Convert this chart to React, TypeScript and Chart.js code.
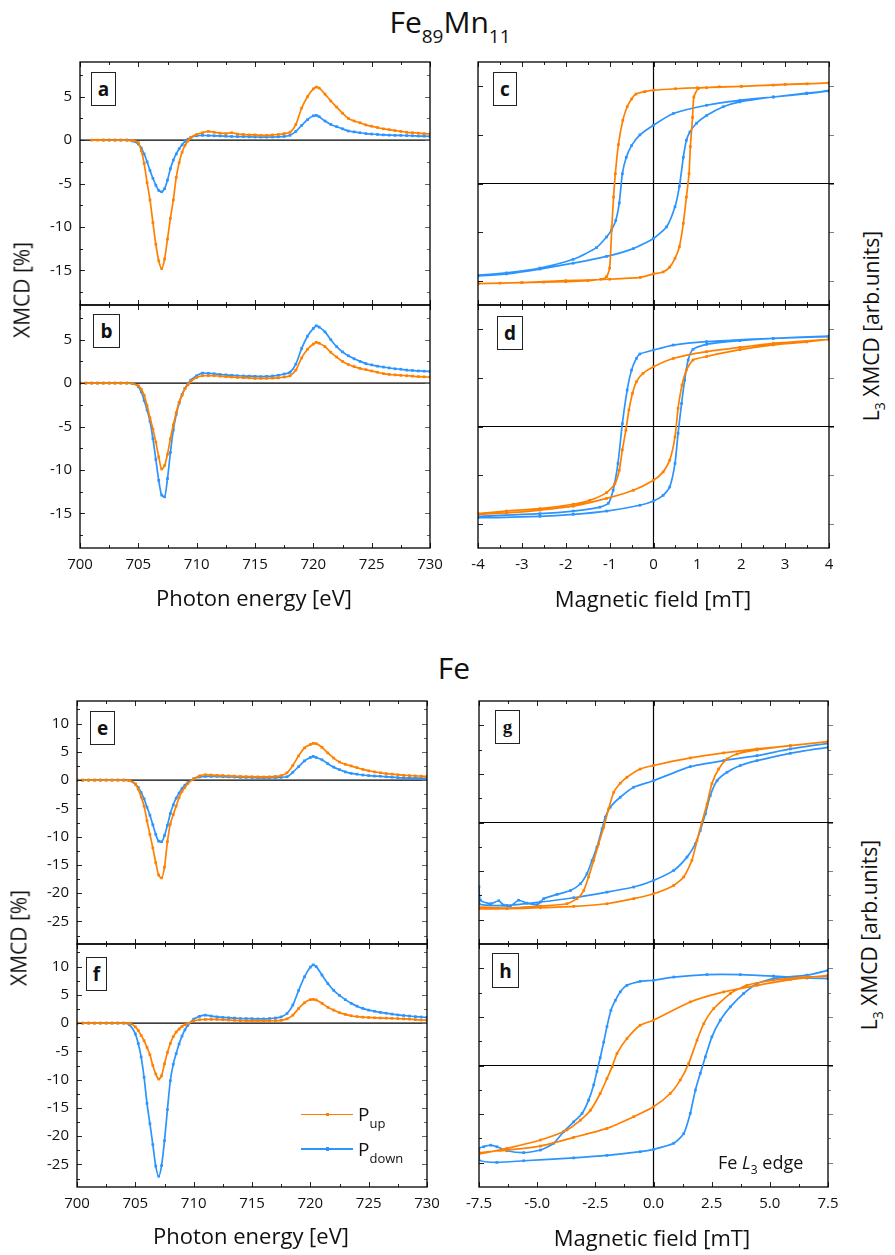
import React, { useEffect, useRef } from 'react';
import { Chart, registerables } from 'chart.js';
Chart.register(...registerables);

const ORANGE = '#ff8000';
const BLUE = '#2b94ff';
const FONT = "'Open Sans', 'Noto Sans', sans-serif";

// ---------- XMCD spectra (photon energy grid, eV) ----------
const energy = [700, 700.5, 701, 701.5, 702, 702.5, 703, 703.5, 704, 704.5,
  705, 705.25, 705.5, 705.75, 706, 706.25, 706.5, 706.75, 707, 707.25, 707.5, 707.75, 708, 708.25, 708.5, 708.75, 709, 709.25, 709.5,
  710, 710.5, 711, 711.5, 712, 712.5, 713, 713.5, 714, 714.5, 715, 715.5, 716, 716.5, 717, 717.5, 718, 718.5, 719, 719.5, 720,
  720.25,
  720.5, 721, 721.5, 722, 722.5, 723, 723.5, 724, 724.5, 725, 725.5, 726, 726.5, 727, 727.5, 728, 728.5, 729, 729.5, 730];

const aUp = [null, null, 0, 0, 0, 0, 0, 0, 0, -0.05,
  -0.3, -1.2, -2.7, -4.9, -6.9, -9.5, -12.0, -13.9, -14.8, -13.7, -11.4, -9.0, -6.9, -4.3, -2.6, -1.4, -0.6, -0.1, 0.3,
  0.65, 0.85, 1.0, 0.9, 0.8, 0.75, 0.85, 0.7, 0.65, 0.6, 0.6, 0.55, 0.55, 0.6, 0.65, 0.75, 0.9, 1.8, 3.7, 5.0, 5.9,
  6.1,
  6.0, 5.3, 4.5, 3.8, 3.1, 2.5, 2.2, 2.0, 1.75, 1.6, 1.45, 1.3, 1.2, 1.1, 1.0, 0.9, 0.85, 0.8, 0.75, 0.72];
const aDown = [null, null, null, null, 0, 0, 0, 0, 0, -0.1,
  -0.45, -0.9, -1.6, -2.5, -3.5, -4.4, -5.2, -5.8, -5.95, -5.6, -4.6, -3.3, -2.3, -1.6, -1.0, -0.55, -0.15, 0.1, 0.3,
  0.5, 0.55, 0.52, 0.5, 0.48, 0.45, 0.42, 0.4, 0.4, 0.38, 0.36, 0.35, 0.35, 0.36, 0.38, 0.42, 0.55, 1.0, 1.7, 2.35, 2.8,
  2.85,
  2.7, 2.2, 1.8, 1.55, 1.3, 1.05, 0.95, 0.85, 0.75, 0.7, 0.65, 0.6, 0.57, 0.55, 0.55, 0.52, 0.5, 0.47, 0.45, 0.42];
const bUp = [0, 0, 0, 0, 0, 0, 0, 0, 0, -0.05,
  -0.3, -0.7, -1.4, -2.6, -4.0, -5.3, -6.8, -8.5, -9.9, -9.5, -8.2, -6.4, -4.8, -3.4, -2.2, -1.4, -0.6, -0.2, 0.2,
  0.65, 0.85, 0.85, 0.85, 0.8, 0.75, 0.7, 0.65, 0.62, 0.6, 0.55, 0.55, 0.55, 0.58, 0.6, 0.7, 0.85, 1.5, 2.9, 3.9, 4.5,
  4.7,
  4.6, 4.2, 3.55, 3.0, 2.5, 2.15, 1.9, 1.7, 1.55, 1.4, 1.25, 1.1, 1.0, 0.95, 0.9, 0.85, 0.8, 0.75, 0.72, 0.7];
const bDown = [0, 0, 0, 0, 0, 0, 0, 0, 0, -0.05,
  -0.4, -1.0, -2.0, -3.1, -4.4, -6.4, -8.8, -11.2, -12.9, -13.1, -11.0, -8.0, -5.4, -3.6, -2.3, -1.3, -0.6, -0.05, 0.35,
  0.85, 1.15, 1.12, 1.08, 1.0, 0.95, 0.9, 0.85, 0.82, 0.8, 0.78, 0.75, 0.78, 0.82, 0.9, 1.05, 1.25, 2.2, 4.0, 5.4, 6.3,
  6.6,
  6.45, 5.9, 5.0, 4.2, 3.6, 3.15, 2.8, 2.5, 2.25, 2.1, 1.95, 1.85, 1.75, 1.65, 1.6, 1.5, 1.45, 1.4, 1.37, 1.35];
const eUp = [0, 0, 0, 0, 0, 0, 0, 0, 0, -0.1,
  -0.7, -1.6, -3.0, -4.6, -7.2, -9.6, -12.0, -14.6, -16.8, -17.3, -15.4, -10.9, -7.8, -6.1, -4.6, -3.1, -2.0, -1.3, -0.6,
  0.2, 0.75, 0.95, 0.9, 0.85, 0.8, 0.75, 0.7, 0.65, 0.62, 0.6, 0.58, 0.56, 0.58, 0.65, 0.8, 1.3, 2.6, 4.3, 5.7, 6.3,
  6.5,
  6.45, 5.8, 4.8, 3.9, 3.2, 2.8, 2.5, 2.2, 1.9, 1.65, 1.45, 1.3, 1.15, 1.05, 0.95, 0.85, 0.8, 0.75, 0.7, 0.65];
const eDown = [0, 0, 0, 0, 0, 0, 0, 0, 0, -0.1,
  -0.7, -1.3, -2.2, -3.3, -4.8, -6.2, -7.9, -9.6, -10.8, -10.9, -9.8, -8.0, -5.9, -4.4, -3.2, -2.3, -1.5, -0.9, -0.45,
  0.25, 0.55, 0.65, 0.65, 0.65, 0.6, 0.58, 0.55, 0.5, 0.48, 0.45, 0.42, 0.4, 0.42, 0.45, 0.5, 0.6, 1.4, 2.4, 3.4, 4.0,
  4.2,
  4.0, 3.6, 2.9, 2.3, 1.85, 1.45, 1.2, 1.05, 0.9, 0.8, 0.72, 0.68, 0.6, 0.52, 0.45, 0.4, 0.37, 0.35, 0.32, 0.3];
const fUp = [0, 0, 0, 0, 0, 0, 0, 0, 0, -0.05,
  -0.65, -1.3, -2.2, -3.1, -4.3, -5.6, -7.5, -9.0, -9.9, -9.3, -7.2, -5.2, -3.6, -2.4, -1.6, -1.05, -0.6, -0.3, -0.05,
  0.4, 0.6, 0.65, 0.65, 0.65, 0.6, 0.55, 0.5, 0.45, 0.42, 0.4, 0.4, 0.4, 0.42, 0.45, 0.5, 0.75, 1.4, 2.6, 3.6, 4.15,
  4.2,
  4.1, 3.5, 2.8, 2.3, 1.85, 1.55, 1.3, 1.15, 1.05, 1.0, 0.95, 0.9, 0.88, 0.85, 0.8, 0.75, 0.7, 0.62, 0.55, 0.5];
const fDown = [0, 0, 0, 0, 0, 0, 0, 0, 0, -0.3,
  -1.9, -3.6, -6.0, -9.6, -14.2, -17.8, -21.5, -25.3, -27.1, -25.2, -20.8, -15.3, -10.2, -7.3, -5.4, -3.7, -2.3, -1.2, -0.4,
  0.7, 1.2, 1.4, 1.25, 1.1, 1.0, 0.95, 0.9, 0.82, 0.8, 0.78, 0.75, 0.75, 0.8, 0.9, 1.1, 1.7, 3.2, 5.8, 8.2, 9.9,
  10.3,
  10.0, 8.5, 7.0, 5.8, 4.9, 4.15, 3.5, 3.0, 2.6, 2.3, 2.1, 1.9, 1.75, 1.6, 1.45, 1.35, 1.25, 1.15, 1.08, 1.0];

// ---------- Hysteresis loops (field mT, L3 XMCD arb. units) ----------
// panel c
const cUpDescB = [4, 3, 2, 1, 0.5, 0, -0.2, -0.4, -0.5, -0.6, -0.7, -0.8, -0.87, -0.91, -0.95, -1.0, -1.07, -1.2, -1.5, -2, -2.5, -3, -3.5, -4];
const cUpDescV = [1.034, 1.02, 1.0, 0.985, 0.975, 0.96, 0.945, 0.92, 0.87, 0.79, 0.65, 0.40, 0.10, -0.14, -0.45, -0.87, -0.96, -0.985, -1.0, -1.01, -1.015, -1.02, -1.025, -1.03];
const cUpAscB = [-4, -3, -2, -1, -0.3, 0, 0.22, 0.37, 0.49, 0.59, 0.68, 0.75, 0.81, 0.84, 0.89, 0.92, 1.02, 1.21, 1.5, 2, 2.73, 3.5, 4];
const cUpAscV = [-1.03, -1.02, -1.0, -0.985, -0.966, -0.93, -0.91, -0.86, -0.77, -0.65, -0.41, -0.14, 0.10, 0.38, 0.68, 0.89, 0.976, 0.986, 0.995, 1.0, 1.012, 1.025, 1.034];
const cDnDescB = [4, 3.49, 2.73, 1.97, 1.21, 0.45, 0, -0.31, -0.5, -0.62, -0.71, -0.78, -0.86, -0.96, -1.07, -1.3, -1.83, -2.59, -3.35, -4];
const cDnDescV = [0.952, 0.925, 0.89, 0.856, 0.805, 0.72, 0.60, 0.50, 0.39, 0.27, 0.10, -0.2, -0.38, -0.48, -0.55, -0.66, -0.78, -0.87, -0.92, -0.945];
const cDnAscB = [-4, -3.35, -2.59, -1.83, -1.07, -0.46, 0, 0.3, 0.49, 0.59, 0.68, 0.75, 0.83, 0.98, 1.21, 1.59, 1.97, 2.73, 3.49, 4];
const cDnAscV = [-0.95, -0.93, -0.88, -0.82, -0.75, -0.67, -0.565, -0.445, -0.24, -0.03, 0.27, 0.445, 0.53, 0.62, 0.70, 0.79, 0.84, 0.89, 0.93, 0.952];
// panel d
const dUpDescB = [4, 2.73, 1.97, 1.21, 0.45, 0, -0.24, -0.39, -0.48, -0.56, -0.63, -0.71, -0.78, -0.88, -1.07, -1.45, -1.83, -2.59, -3.35, -4];
const dUpDescV = [0.897, 0.856, 0.814, 0.77, 0.70, 0.615, 0.546, 0.46, 0.34, 0.17, -0.04, -0.24, -0.45, -0.59, -0.68, -0.76, -0.80, -0.845, -0.87, -0.897];
const dUpAscB = [-4, -3.35, -2.59, -1.83, -1.07, -0.46, 0, 0.22, 0.37, 0.49, 0.56, 0.65, 0.75, 0.9, 1.21, 1.97, 2.73, 3.49, 4];
const dUpAscV = [-0.904, -0.89, -0.86, -0.82, -0.74, -0.656, -0.553, -0.467, -0.347, -0.107, 0.186, 0.426, 0.58, 0.684, 0.72, 0.79, 0.84, 0.87, 0.897];
const dDnDescB = [4, 2.73, 1.21, 0.45, 0, -0.31, -0.39, -0.5, -0.6, -0.71, -0.81, -0.92, -1.03, -1.22, -1.83, -2.59, -4];
const dDnDescV = [0.924, 0.907, 0.873, 0.838, 0.787, 0.746, 0.70, 0.58, 0.375, 0.03, -0.38, -0.656, -0.79, -0.83, -0.87, -0.897, -0.924];
const dDnAscB = [-4, -2.59, -1.83, -1.07, -0.31, 0, 0.22, 0.37, 0.49, 0.56, 0.64, 0.71, 0.79, 0.9, 1.21, 1.97, 2.73, 4];
const dDnAscV = [-0.938, -0.924, -0.904, -0.87, -0.81, -0.766, -0.708, -0.622, -0.38, -0.07, 0.237, 0.478, 0.684, 0.794, 0.845, 0.883, 0.907, 0.931];
// panel g
const gUpDescB = [7.5, 5.88, 4.45, 3.02, 1.58, 0, -0.57, -1.14, -1.43, -1.71, -1.93, -2.14, -2.36, -2.57, -2.79, -3.0, -3.29, -3.72, -4.86, -6.3, -7.5];
const gUpDescV = [0.832, 0.79, 0.757, 0.716, 0.664, 0.586, 0.55, 0.466, 0.404, 0.31, 0.14, -0.048, -0.22, -0.39, -0.56, -0.70, -0.784, -0.836, -0.86, -0.88, -0.87];
const gUpAscB = [-7.5, -6.3, -4.86, -3.43, -2.0, -0.85, 0, 0.87, 1.3, 1.65, 1.87, 2.08, 2.3, 2.51, 2.8, 3.16, 3.59, 4.45, 5.88, 7.5];
const gUpAscV = [-0.887, -0.887, -0.877, -0.863, -0.836, -0.784, -0.733, -0.647, -0.56, -0.39, -0.185, 0.003, 0.19, 0.40, 0.55, 0.654, 0.705, 0.747, 0.79, 0.832];
const gDnDescB = [7.5, 5.88, 4.45, 3.02, 1.58, 0, -0.85, -1.43, -1.86, -2.07, -2.21, -2.43, -2.64, -2.86, -3.14, -3.57, -4.15, -4.72, -5.0, -5.44, -5.8, -6.15, -6.44, -6.65, -7.0, -7.44, -7.5];
const gDnDescV = [0.815, 0.757, 0.688, 0.637, 0.575, 0.43, 0.363, 0.26, 0.158, 0.055, -0.065, -0.253, -0.39, -0.527, -0.63, -0.70, -0.74, -0.784, -0.846, -0.83, -0.80, -0.86, -0.85, -0.805, -0.836, -0.80, -0.66];
const gDnAscB = [-7.5, -6.3, -4.86, -3.43, -2.0, -0.85, 0, 0.87, 1.44, 1.8, 2.01, 2.23, 2.44, 2.73, 3.16, 3.73, 4.45, 5.88, 7.5];
const gDnAscV = [-0.836, -0.853, -0.818, -0.774, -0.716, -0.664, -0.596, -0.493, -0.356, -0.22, -0.082, 0.089, 0.277, 0.43, 0.517, 0.586, 0.637, 0.712, 0.774];
// panel h
const hUpDescB = [7.5, 5.88, 4.45, 3.02, 1.58, 0, -0.57, -1.14, -1.57, -1.78, -2.0, -2.29, -2.71, -3.14, -3.72, -4.86, -6.3, -7.5];
const hUpDescV = [0.928, 0.884, 0.825, 0.757, 0.654, 0.466, 0.414, 0.277, 0.123, -0.014, -0.134, -0.288, -0.46, -0.562, -0.664, -0.767, -0.853, -0.91];
const hUpAscB = [-7.5, -6.3, -4.86, -3.43, -2.0, -0.85, 0, 0.72, 1.15, 1.51, 1.87, 2.16, 2.59, 3.3, 4.02, 5.16, 6.6, 7.5];
const hUpAscV = [-0.897, -0.87, -0.829, -0.74, -0.647, -0.527, -0.425, -0.288, -0.15, 0.02, 0.26, 0.43, 0.586, 0.74, 0.825, 0.877, 0.911, 0.918];
const hDnDescB = [7.5, 6.6, 5.16, 3.73, 2.3, 0.87, 0, -0.57, -1.14, -1.43, -1.64, -1.83, -2.0, -2.14, -2.29, -2.43, -2.57, -2.79, -3.07, -3.43, -3.86, -4.29, -4.86, -5.58, -6.3, -6.73, -7.0, -7.3, -7.5];
const hDnDescV = [0.894, 0.90, 0.92, 0.935, 0.935, 0.91, 0.877, 0.866, 0.825, 0.757, 0.67, 0.568, 0.40, 0.24, 0.08, -0.06, -0.2, -0.356, -0.493, -0.58, -0.68, -0.80, -0.87, -0.897, -0.877, -0.836, -0.82, -0.836, -0.853];
const hDnAscB = [-7.5, -6.73, -5.58, -3.43, -2.0, -0.57, 0, 0.87, 1.3, 1.58, 1.8, 2.01, 2.23, 2.51, 2.87, 3.3, 3.87, 4.45, 5.16, 6.6, 7.5];
const hDnAscV = [-0.973, -0.997, -0.98, -0.95, -0.925, -0.887, -0.863, -0.80, -0.70, -0.493, -0.253, -0.082, 0.089, 0.295, 0.466, 0.603, 0.74, 0.842, 0.894, 0.93, 0.979];

// ---------- tick values ----------
const specXTicks = [700, 705, 710, 715, 720, 725, 730];
const abYTicks = [-15, -10, -5, 0, 5];
const efYTicks = [-25, -20, -15, -10, -5, 0, 5, 10];
const cdXTicks = [-4, -3, -2, -1, 0, 1, 2, 3, 4];
const ghXTicks = [-7.5, -5, -2.5, 0, 2.5, 5, 7.5];
const loopYTicks = [-1, -0.5, 0, 0.5, 1];

const MT = 4;
const MR = 22;

type Pt = { x: number; y: number };
type DS = { data: Pt[]; color: string };
type Cfg = {
  box: { x: number; y: number; w: number; h: number };
  mL: number; mB: number;
  xMin: number; xMax: number; yMin: number; yMax: number;
  xTicks: number[]; yTicks: number[];
  showX: boolean; showY: boolean; yMinor: boolean; loop: boolean;
  xFmt: (v: number) => string;
  datasets: DS[];
};

const spec = (ys: (number | null)[]): Pt[] =>
  energy.map((x, i) => ({ x, y: ys[i] as number })).filter((p) => p.y !== null);
const loop = (bd: number[], vd: number[], ba: number[], va: number[]): Pt[] => [
  ...bd.map((x, i) => ({ x, y: vd[i] })),
  ...ba.map((x, i) => ({ x, y: va[i] })),
];

function minors(ticks: number[], min: number, max: number) {
  const step = ticks[1] - ticks[0];
  const out = [ticks[0] - step / 2, ...ticks.map((t) => t + step / 2)];
  return out.filter((v) => v > min + 1e-9 && v < max - 1e-9);
}

function framePlugin(c: Cfg) {
  return {
    id: 'frame',
    beforeDatasetsDraw(chart: any) {
      const { ctx, chartArea: a, scales } = chart;
      ctx.save();
      ctx.strokeStyle = '#000';
      ctx.lineWidth = 1.2;
      const y0 = scales.y.getPixelForValue(0);
      ctx.beginPath();
      ctx.moveTo(a.left, y0);
      ctx.lineTo(a.right + (c.loop ? 5 : 0), y0);
      ctx.stroke();
      if (c.loop) {
        const x0 = scales.x.getPixelForValue(0);
        ctx.beginPath();
        ctx.moveTo(x0, a.top);
        ctx.lineTo(x0, a.bottom);
        ctx.stroke();
      }
      ctx.restore();
    },
    afterDatasetsDraw(chart: any) {
      const { ctx, chartArea: a, scales } = chart;
      const xs = scales.x;
      const ys = scales.y;
      ctx.save();
      ctx.lineWidth = 1;
      const seg = (x1: number, y1: number, x2: number, y2: number, col: string) => {
        ctx.strokeStyle = col;
        ctx.beginPath();
        ctx.moveTo(x1, y1);
        ctx.lineTo(x2, y2);
        ctx.stroke();
      };
      const xm = minors(c.xTicks, c.xMin, c.xMax);
      const xSets: [number[], number][] = [[c.xTicks, 5], [xm, 3]];
      for (const [vals, len] of xSets) {
        for (const v of vals) {
          const px = Math.round(xs.getPixelForValue(v)) + 0.5;
          seg(px, a.bottom, px, a.bottom - len, '#222');
          seg(px, a.top, px, a.top + len, '#222');
        }
      }
      const ym = c.yMinor ? minors(c.yTicks, c.yMin, c.yMax) : [];
      const ySets: [number[], number][] = [[c.yTicks, 5], [ym, 3]];
      for (const [vals, len] of ySets) {
        for (const v of vals) {
          const py = Math.round(ys.getPixelForValue(v)) + 0.5;
          seg(a.left, py, a.left + len, py, '#222');
          if (c.loop) seg(a.right, py, a.right + len, py, '#808080');
          else seg(a.right, py, a.right - len, py, '#666');
        }
      }
      ctx.strokeStyle = '#000';
      ctx.lineWidth = 1.3;
      ctx.strokeRect(a.left, a.top, a.right - a.left, a.bottom - a.top);
      ctx.restore();
    },
  };
}

function Panel({ c }: { c: Cfg }) {
  const ref = useRef<HTMLCanvasElement>(null);
  useEffect(() => {
    const chart = new Chart(ref.current as HTMLCanvasElement, {
      type: 'scatter',
      data: {
        datasets: c.datasets.map((d) => ({
          data: d.data,
          borderColor: d.color,
          backgroundColor: d.color,
          showLine: true,
          borderWidth: 1.7,
          pointRadius: 1.9,
          pointStyle: 'rect',
          pointBorderWidth: 0,
          pointHoverRadius: 0,
          tension: c.loop ? 0.2 : 0,
          cubicInterpolationMode: c.loop ? 'default' : 'monotone',
        })) as any,
      },
      options: {
        animation: false,
        responsive: false,
        maintainAspectRatio: false,
        events: [],
        layout: { padding: { top: MT, right: MR, left: 0, bottom: 0 } },
        plugins: { legend: { display: false }, tooltip: { enabled: false } },
        scales: {
          x: {
            type: 'linear',
            position: 'bottom',
            min: c.xMin,
            max: c.xMax,
            grid: { display: false, drawTicks: false },
            border: { display: false },
            ticks: {
              display: c.showX,
              color: '#111',
              font: { family: FONT, size: 15 },
              padding: 8,
              maxRotation: 0,
              autoSkip: false,
              callback: (v: any) => c.xFmt(Number(v)),
            },
            afterBuildTicks: (s: any) => { s.ticks = c.xTicks.map((v) => ({ value: v })); },
            afterFit: (s: any) => { s.height = c.mB; s.paddingLeft = 0; s.paddingRight = 0; },
          },
          y: {
            type: 'linear',
            position: 'left',
            min: c.yMin,
            max: c.yMax,
            grid: { display: false, drawTicks: false },
            border: { display: false },
            ticks: {
              display: c.showY,
              color: '#111',
              font: { family: FONT, size: 15 },
              padding: 8,
              autoSkip: false,
            },
            afterBuildTicks: (s: any) => { s.ticks = c.yTicks.map((v) => ({ value: v })); },
            afterFit: (s: any) => { s.width = c.mL; s.paddingTop = 0; s.paddingBottom = 0; },
          },
        },
      } as any,
      plugins: [framePlugin(c)],
    });
    return () => chart.destroy();
  }, []);
  const W = c.mL + c.box.w + MR;
  const H = MT + c.box.h + c.mB;
  return (
    <canvas
      ref={ref}
      width={W}
      height={H}
      style={{ position: 'absolute', left: c.box.x - c.mL, top: c.box.y - MT, width: W, height: H }}
    />
  );
}

const intFmt = (v: number) => String(v);
const decFmt = (v: number) => v.toFixed(1);

const specBase = { xMin: 700, xMax: 730, xTicks: specXTicks, showY: true, yMinor: true, loop: false, xFmt: intFmt };
const cdBase = { xMin: -4, xMax: 4, yMin: -1.25, yMax: 1.25, xTicks: cdXTicks, yTicks: loopYTicks, showY: false, yMinor: false, loop: true, xFmt: intFmt, mL: 24 };
const ghBase = { xMin: -7.5, xMax: 7.5, yMin: -1.25, yMax: 1.25, xTicks: ghXTicks, yTicks: loopYTicks, showY: false, yMinor: true, loop: true, xFmt: decFmt, mL: 24 };

const panels: Cfg[] = [
  { ...specBase, box: { x: 80, y: 62, w: 350, h: 243 }, mL: 80, mB: 4, yMin: -19, yMax: 9, yTicks: abYTicks, showX: false,
    datasets: [{ data: spec(aUp), color: ORANGE }, { data: spec(aDown), color: BLUE }] },
  { ...specBase, box: { x: 80, y: 305, w: 350, h: 243 }, mL: 80, mB: 40, yMin: -19, yMax: 9, yTicks: abYTicks, showX: true,
    datasets: [{ data: spec(bUp), color: ORANGE }, { data: spec(bDown), color: BLUE }] },
  { ...cdBase, box: { x: 478, y: 62, w: 351, h: 243 }, mB: 4, showX: false,
    datasets: [{ data: loop(cUpDescB, cUpDescV, cUpAscB, cUpAscV), color: ORANGE }, { data: loop(cDnDescB, cDnDescV, cDnAscB, cDnAscV), color: BLUE }] },
  { ...cdBase, box: { x: 478, y: 305, w: 351, h: 243 }, mB: 40, showX: true,
    datasets: [{ data: loop(dUpDescB, dUpDescV, dUpAscB, dUpAscV), color: ORANGE }, { data: loop(dDnDescB, dDnDescV, dDnAscB, dDnAscV), color: BLUE }] },
  { ...specBase, box: { x: 77, y: 701, w: 350, h: 243 }, mL: 77, mB: 4, yMin: -29, yMax: 14, yTicks: efYTicks, showX: false,
    datasets: [{ data: spec(eUp), color: ORANGE }, { data: spec(eDown), color: BLUE }] },
  { ...specBase, box: { x: 77, y: 944, w: 350, h: 243 }, mL: 77, mB: 40, yMin: -29, yMax: 14, yTicks: efYTicks, showX: true,
    datasets: [{ data: spec(fUp), color: ORANGE }, { data: spec(fDown), color: BLUE }] },
  { ...ghBase, box: { x: 479, y: 701, w: 349, h: 243 }, mB: 4, showX: false,
    datasets: [{ data: loop(gUpDescB, gUpDescV, gUpAscB, gUpAscV), color: ORANGE }, { data: loop(gDnDescB, gDnDescV, gDnAscB, gDnAscV), color: BLUE }] },
  { ...ghBase, box: { x: 479, y: 944, w: 349, h: 243 }, mB: 40, showX: true,
    datasets: [{ data: loop(hUpDescB, hUpDescV, hUpAscB, hUpAscV), color: ORANGE }, { data: loop(hDnDescB, hDnDescV, hDnAscB, hDnAscV), color: BLUE }] },
];

const abs = (s: React.CSSProperties): React.CSSProperties => ({ position: 'absolute', whiteSpace: 'nowrap', fontFamily: FONT, color: '#111', ...s });

function Centered({ cx, cy, fs, rot, children }: { cx: number; cy: number; fs: number; rot?: boolean; children: React.ReactNode }) {
  return (
    <div style={abs({ left: cx, top: cy, fontSize: fs, lineHeight: `${fs}px`, transform: `translate(-50%, -50%)${rot ? ' rotate(-90deg)' : ''}` })}>
      {children}
    </div>
  );
}

function Sub({ fs, dy, children }: { fs: number; dy: number; children: React.ReactNode }) {
  return <span style={{ fontSize: fs, position: 'relative', top: dy }}>{children}</span>;
}

const letters = [
  { t: 'a', x: 91, y: 72, w: 25, h: 34 },
  { t: 'b', x: 93, y: 314, w: 27, h: 34 },
  { t: 'c', x: 493, y: 72, w: 24, h: 34 },
  { t: 'd', x: 497, y: 316, w: 26, h: 34 },
  { t: 'e', x: 90, y: 711, w: 25, h: 34 },
  { t: 'f', x: 86, y: 957, w: 21, h: 34 },
  { t: 'g', x: 495, y: 710, w: 25, h: 34 },
  { t: 'h', x: 492, y: 953, w: 27, h: 35 },
];

export default function App() {
  return (
    <div style={{ position: 'absolute', left: 0, top: 0, width: 895, height: 1255, background: '#fff', overflow: 'hidden' }}>
      {panels.map((c, i) => <Panel key={i} c={c} />)}

      <div style={abs({ left: 450, top: 6.5, fontSize: 30, lineHeight: '30px', transform: 'translateX(-50%)' })}>
        Fe<Sub fs={19} dy={10}>89</Sub>Mn<Sub fs={19} dy={10}>11</Sub>
      </div>
      <div style={abs({ left: 454, top: 652.8, fontSize: 30, lineHeight: '30px', transform: 'translateX(-50%)' })}>Fe</div>

      <Centered cx={22} cy={290} fs={21} rot>XMCD [%]</Centered>
      <Centered cx={19} cy={938} fs={21} rot>XMCD [%]</Centered>
      <Centered cx={872} cy={326} fs={21} rot>L<Sub fs={14} dy={6}>3</Sub> XMCD [arb.units]</Centered>
      <Centered cx={870} cy={935} fs={21} rot>L<Sub fs={14} dy={6}>3</Sub> XMCD [arb.units]</Centered>

      <Centered cx={254} cy={597} fs={22}>Photon energy [eV]</Centered>
      <Centered cx={653} cy={598} fs={22}>Magnetic field [mT]</Centered>
      <Centered cx={251} cy={1235} fs={22}>Photon energy [eV]</Centered>
      <Centered cx={652} cy={1237} fs={22}>Magnetic field [mT]</Centered>

      {letters.map((l) => (
        <div key={l.t} style={abs({ left: l.x, top: l.y, width: l.w - 2, height: l.h - 2, border: '1px solid #222', background: '#fff',
          display: 'flex', alignItems: 'center', justifyContent: 'center', fontWeight: 700, fontSize: 19,
          fontFamily: l.t === 'g' ? "'Liberation Serif', serif" : FONT })}>
          {l.t}
        </div>
      ))}

      {/* legend in panel f */}
      <div style={abs({ left: 301, top: 1113.5, width: 52, height: 1.6, background: ORANGE })} />
      <div style={abs({ left: 325.5, top: 1112.5, width: 3.6, height: 3.6, background: ORANGE })} />
      <div style={abs({ left: 358, top: 1105, fontSize: 19, lineHeight: '19px' })}>P<Sub fs={13} dy={7}>up</Sub></div>
      <div style={abs({ left: 301, top: 1148.3, width: 52, height: 1.6, background: BLUE })} />
      <div style={abs({ left: 325.5, top: 1147.3, width: 3.6, height: 3.6, background: BLUE })} />
      <div style={abs({ left: 358, top: 1139.5, fontSize: 19, lineHeight: '19px' })}>P<Sub fs={13} dy={7}>down</Sub></div>

      <div style={abs({ left: 718, top: 1152.5, fontSize: 18, lineHeight: '18px' })}>
        Fe <i>L</i><Sub fs={12} dy={5}>3</Sub> edge
      </div>
    </div>
  );
}
